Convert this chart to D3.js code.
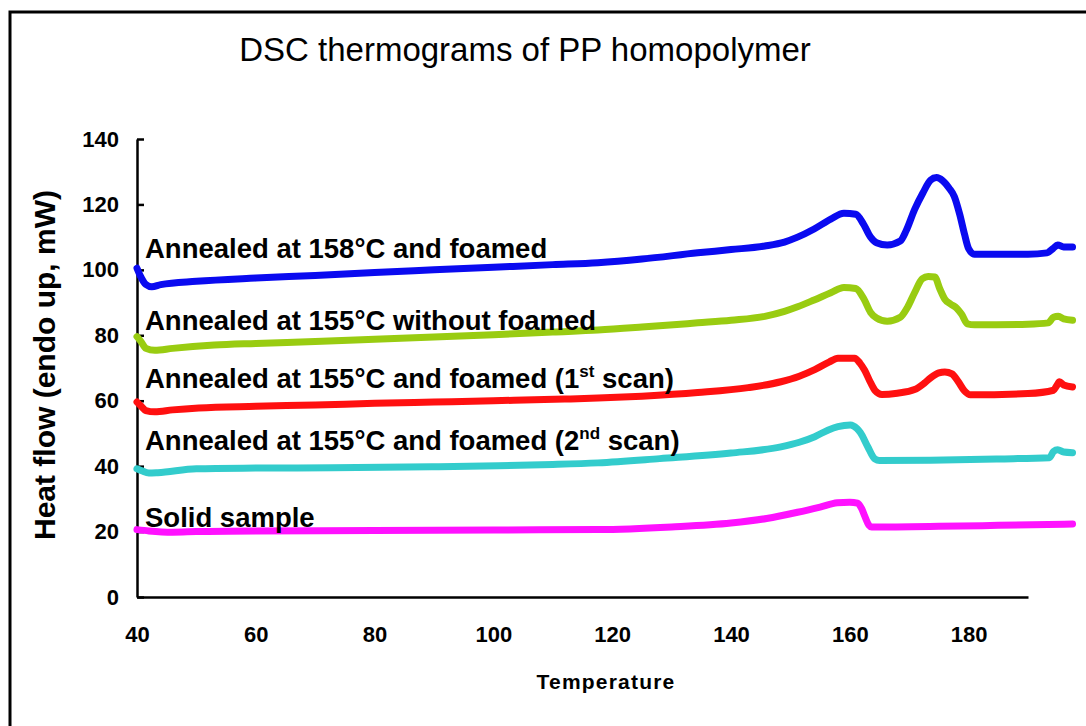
<!DOCTYPE html>
<html>
<head>
<meta charset="utf-8">
<script src="https://cdn.jsdelivr.net/npm/d3@7"></script>
<style>
  body { margin: 0; background: #fff; }
  text { font-family: "Liberation Sans", Arial, sans-serif; fill: #000; }
</style>
</head>
<body>
<svg id="chart"></svg>
<script>
// temperature / heat flow readings, one array per curve
const annealed158Foamed = [
  [40, 100.5], [40.6, 98], [41.5, 95.5], [42.5, 94.8], [44, 95.5], [50, 96.5], [60, 97.5],
  [70, 98.3], [80, 99.2], [90, 100], [100, 100.8], [110, 101.6], [117.6, 102.2], [125, 103.3],
  [134.4, 105.2], [140, 106.2], [145.7, 107.3], [149, 108.5], [151.2, 110], [154, 112.5],
  [156.8, 115.5], [159, 117.3], [161, 117], [162.3, 114], [163.5, 110], [164.5, 108.3],
  [166.3, 107.6], [168.5, 108.8], [169.5, 112], [170.9, 118.4], [172.3, 123.5], [173.6, 127.4],
  [174.6, 128.2], [175.6, 127.3], [176.7, 125], [177.6, 122.4], [178.5, 117], [179.3, 111],
  [180, 106.5], [181, 104.8], [185, 104.8], [190, 104.8], [193.2, 105.2], [194.2, 106.5],
  [195, 107.6], [196, 107], [197.5, 107]
];
const annealed155NoFoam = [
  [40, 79.6], [40.7, 78], [41.5, 76], [43, 75.4], [46, 76], [53, 77], [60, 77.5], [70, 78.1],
  [80, 78.8], [90, 79.5], [100, 80.2], [110, 81], [117.6, 81.6], [125, 82.5], [134.4, 83.8],
  [140, 84.6], [145.7, 85.8], [149, 87.3], [151.2, 88.7], [154, 90.8], [156.8, 93], [159, 94.6],
  [161, 94.3], [162.4, 91], [163.5, 87], [164.5, 85.3], [166.3, 84.3], [168.5, 85.5],
  [169.7, 88.5], [170.9, 93], [172.2, 97.3], [173.2, 98], [174.3, 97.8], [175.2, 94], [176, 91],
  [177, 89.5], [178, 88.3], [178.8, 86.5], [179.8, 83.5], [181, 83.2], [190, 83.4],
  [193.4, 83.8], [194.3, 85.5], [195.1, 85.8], [196, 85], [197.5, 84.6]
];
const annealed155Scan1 = [
  [40, 59.6], [40.6, 58.5], [41.5, 57], [43, 56.6], [46, 57.2], [50.4, 57.8], [60, 58.3],
  [70, 58.7], [80, 59.2], [90, 59.6], [100, 60], [112, 60.5], [117.6, 60.8], [125, 61.4],
  [134.4, 62.5], [142.9, 64], [148.4, 65.8], [151.5, 67.5], [154.1, 69.5], [156.5, 71.8],
  [158, 73], [160.8, 73], [161.7, 71.5], [162.5, 69.3], [163.5, 65.5], [164.3, 63],
  [165.4, 61.9], [168, 62.3], [170.9, 63.4], [172.5, 65.3], [173.6, 67], [175, 68.5], [176, 68.8],
  [177.2, 68.2], [178.2, 66], [179.3, 63], [180.3, 61.8], [190, 62.2], [194.3, 63.2],
  [194.8, 64.5], [195.3, 65.8], [196, 64.8], [197.5, 64.2]
];
const annealed155Scan2 = [
  [40, 39.2], [40.8, 38.6], [42, 37.9], [43.5, 38], [50, 39.2], [60, 39.4], [72.8, 39.5],
  [89.6, 39.8], [100.8, 40.1], [110, 40.5], [117.6, 41], [128, 42.3], [140, 44], [148.4, 45.9],
  [151.5, 47.3], [154.1, 49], [156.3, 51], [158, 52.1], [160.1, 52.6], [161.2, 51.5],
  [161.8, 50.2], [163, 46], [164.2, 42.2], [165, 41.7], [173.6, 41.8], [185, 42.2],
  [193.6, 42.6], [194.3, 44.5], [195, 45], [196, 44.3], [197.5, 44.1]
];
const solidSample = [
  [40, 20.6], [42, 20.2], [46, 19.8], [50, 20], [60, 20.2], [80, 20.3], [100, 20.5],
  [117.6, 20.6], [130, 21.4], [140, 22.6], [146, 24], [151.2, 25.9], [155, 27.5], [157.9, 28.8],
  [160, 29], [161.3, 28.7], [162, 27], [162.5, 24.8], [163.2, 22], [163.7, 21.4], [175, 21.6],
  [185, 21.9], [197.5, 22.3]
];

const seriesData = [annealed158Foamed, annealed155NoFoam, annealed155Scan1, annealed155Scan2, solidSample];
const seriesColors = ["#0a0af0", "#99cc11", "#ff1010", "#33cccc", "#ff11ff"];
// label text: [main, superscript, tail]
const seriesLabels = [
  ["Annealed at 158\u00B0C and foamed", "", ""],
  ["Annealed at 155\u00B0C without foamed", "", ""],
  ["Annealed at 155\u00B0C and foamed (1", "st", " scan)"],
  ["Annealed at 155\u00B0C and foamed (2", "nd", " scan)"],
  ["Solid sample", "", ""]
];
// heat flow level where each label's baseline sits
const labelLevels = [103.7, 81.7, 63.9, 45, 21.4];

const xTicks = [40, 60, 80, 100, 120, 140, 160, 180];
const yTicks = [0, 20, 40, 60, 80, 100, 120, 140];

const W = 1086, H = 726;

const svg = d3.select("#chart").attr("width", W).attr("height", H);

svg.append("rect").attr("width", W).attr("height", H).attr("fill", "#fff");

// outer frame (only top and left edges visible)
svg.append("path")
  .attr("d", "M10," + (H + 5) + "V12H" + (W + 5))
  .attr("fill", "none")
  .attr("stroke", "#000")
  .attr("stroke-width", 3);

const x = d3.scaleLinear().domain([40, 190]).range([137, 1028]);
const y = d3.scaleLinear().domain([0, 140]).range([597, 139]);

// title
svg.append("text")
  .attr("x", 525)
  .attr("y", 61)
  .attr("text-anchor", "middle")
  .style("font-size", "33px")
  .text("DSC thermograms of PP homopolymer");

// x axis
const xAxis = svg.append("g")
  .attr("transform", "translate(0," + y(0) + ")")
  .call(d3.axisBottom(x).tickValues(xTicks).tickSize(0).tickPadding(29).tickFormat(d3.format("d")));
xAxis.select(".domain").attr("stroke-width", 2.5);
xAxis.selectAll("text").style("font-size", "22px").style("font-weight", "bold").attr("fill", "#000");

// y axis, ticks point inward
const yAxis = svg.append("g")
  .attr("transform", "translate(" + x(40) + ",0)")
  .call(d3.axisLeft(y).tickValues(yTicks).tickSizeInner(-7).tickSizeOuter(0).tickPadding(18));
yAxis.select(".domain").attr("stroke-width", 2.5);
yAxis.selectAll(".tick line").attr("stroke-width", 2.5);
yAxis.selectAll("text").style("font-size", "22px").style("font-weight", "bold").attr("fill", "#000");

// axis titles
svg.append("text")
  .attr("x", 606)
  .attr("y", 689)
  .attr("text-anchor", "middle")
  .style("font-size", "21px")
  .style("font-weight", "bold")
  .style("letter-spacing", "1.2px")
  .text("Temperature");

svg.append("text")
  .attr("transform", "translate(55,365)rotate(-90)")
  .attr("text-anchor", "middle")
  .style("font-size", "30px")
  .style("font-weight", "bold")
  .text("Heat flow (endo up, mW)");

// curves
const line = d3.line()
  .x((d) => x(d[0]))
  .y((d) => y(d[1]))
  .curve(d3.curveMonotoneX);

svg.selectAll(".curve")
  .data(seriesData)
  .enter()
  .append("path")
  .attr("class", "curve")
  .attr("d", line)
  .attr("fill", "none")
  .attr("stroke", (d, i) => seriesColors[i])
  .attr("stroke-width", 7)
  .attr("stroke-linejoin", "round")
  .attr("stroke-linecap", "round");

// curve labels
const labels = svg.selectAll(".series-label")
  .data(seriesLabels)
  .enter()
  .append("text")
  .attr("class", "series-label")
  .attr("x", x(40) + 8)
  .attr("y", (d, i) => y(labelLevels[i]))
  .style("font-size", "27.5px")
  .style("font-weight", "bold");

labels.append("tspan").text((d) => d[0]);
labels.append("tspan")
  .attr("dy", -11)
  .style("font-size", "17px")
  .text((d) => d[1]);
labels.append("tspan")
  .attr("dy", (d) => (d[1] ? 11 : 0))
  .text((d) => d[2]);
</script>
</body>
</html>
